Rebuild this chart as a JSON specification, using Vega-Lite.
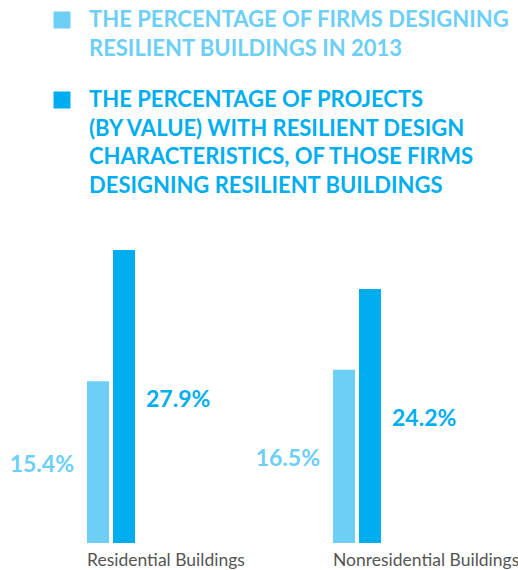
{
  "$schema": "https://vega.github.io/schema/vega-lite/v6.json",
  "width": 468,
  "height": 315,
  "autosize": "none",
  "padding": {"left": 0, "top": 228, "right": 50, "bottom": 27},
  "background": "white",
  "config": {"view": {"stroke": null}, "font": "Lato"},
  "data": {
    "values": [
      {"category": "Residential Buildings", "series": "firms", "value": 15.4},
      {"category": "Residential Buildings", "series": "projects", "value": 27.9},
      {"category": "Nonresidential Buildings", "series": "firms", "value": 16.5},
      {"category": "Nonresidential Buildings", "series": "projects", "value": 24.2}
    ]
  },
  "encoding": {
    "x": {
      "field": "category",
      "type": "nominal",
      "sort": ["Residential Buildings", "Nonresidential Buildings"],
      "scale": {"paddingInner": 0.8049, "paddingOuter": 0.3537},
      "axis": {
        "title": null,
        "labelAlign": "left",
        "labelAngle": 0,
        "labelOffset": -24,
        "domain": false,
        "ticks": false,
        "labelPadding": 22,
        "labelFontSize": 17.5,
        "labelColor": "#555555",
        "labelFont": "Lato",
        "labelFontWeight": "normal",
        "labelBaseline": "alphabetic",
        "labelLimit": 300
      }
    },
    "xOffset": {
      "field": "series",
      "type": "nominal",
      "sort": ["firms", "projects"],
      "scale": {"paddingInner": 0.154, "paddingOuter": 0}
    }
  },
  "layer": [
    {
      "mark": {"type": "bar"},
      "encoding": {
        "y": {"field": "value", "type": "quantitative", "scale": {"domain": [0, 30]}, "axis": null},
        "color": {
          "field": "series",
          "type": "nominal",
          "scale": {"domain": ["firms", "projects"], "range": ["#6DCFF6", "#00AEEF"]},
          "legend": {
            "orient": "none",
            "legendX": 51,
            "legendY": -219,
            "title": null,
            "direction": "vertical",
            "symbolType": "square",
            "symbolSize": 289,
            "symbolStrokeWidth": 0,
            "symbolOpacity": 1,
            "labelFont": "Lato",
            "labelFontSize": 22,
            "labelFontWeight": "bold",
            "labelLimit": 1000,
            "labelOffset": 16,
            "rowPadding": 29,
            "labelExpr": "datum.value == 'firms' ? ['THE PERCENTAGE OF FIRMS DESIGNING', 'RESILIENT BUILDINGS IN 2013'] : ['THE PERCENTAGE OF PROJECTS', '(BY VALUE) WITH RESILIENT DESIGN', 'CHARACTERISTICS, OF THOSE FIRMS', 'DESIGNING RESILIENT BUILDINGS']",
            "labelColor": {"expr": "datum.value == 'firms' ? '#6DCFF6' : '#00AEEF'"},
            "encode": {"labels": {"update": {"lineHeight": {"value": 28.7}}}}
          }
        }
      }
    },
    {
      "transform": [{"filter": "datum.series == 'firms'"}],
      "mark": {
        "type": "text",
        "align": "right",
        "baseline": "middle",
        "dx": -24,
        "dy": 3,
        "fontSize": 23,
        "fontWeight": "bold",
        "font": "Lato",
        "color": "#6DCFF6",
        "text": {"expr": "format(datum.value, '.1f') + '%'"}
      },
      "encoding": {
        "y": {"field": "value", "type": "quantitative", "scale": {"domain": [0, 60]}, "axis": null}
      }
    },
    {
      "transform": [{"filter": "datum.series == 'projects'"}],
      "mark": {
        "type": "text",
        "align": "left",
        "baseline": "middle",
        "dx": 22,
        "dy": 3,
        "fontSize": 23,
        "fontWeight": "bold",
        "font": "Lato",
        "color": "#00AEEF",
        "text": {"expr": "format(datum.value, '.1f') + '%'"}
      },
      "encoding": {
        "y": {"field": "value", "type": "quantitative", "scale": {"domain": [0, 60]}, "axis": null}
      }
    }
  ],
  "resolve": {"scale": {"y": "independent"}}
}
